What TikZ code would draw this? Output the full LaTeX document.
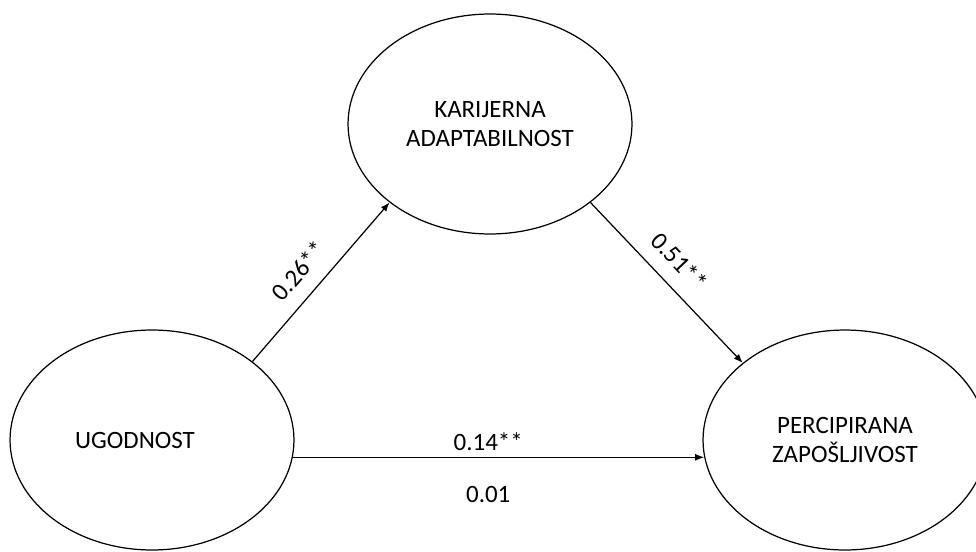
\documentclass[tikz,border=0pt]{standalone}
\usepackage{fontspec}
\setmainfont{Carlito}
\usetikzlibrary{shapes.geometric,arrows.meta}

\begin{document}
\begin{tikzpicture}[x=0.02cm,y=-0.02cm,>={Latex[length=1.8mm,width=1.4mm]},
		var/.style={ellipse,draw,line width=0.7pt,minimum width=5.68cm,minimum height=4.4cm,inner sep=0pt,align=center,font=\fontsize{14.2}{16.5}\selectfont},
		coef/.style={font=\fontsize{14.2}{16.5}\selectfont}]
				\useasboundingbox (0,0) rectangle (976,551);
				\node[var] (ug) at (152,440) {UGODNOST\hspace*{0.68cm}};
				\node[var] (ka) at (490,124) {KARIJERNA\\ADAPTABILNOST};
				\node[var] (pz) at (845,440) {PERCIPIRANA\\ZAPOŠLJIVOST};
				\draw[->,line width=0.7pt] (ug.38) -- (ka.218) node[coef,pos=0.47,sloped,above=5pt] {0.26**};
				\draw[->,line width=0.7pt] (ka.-38) -- (pz.143) node[coef,pos=0.47,sloped,above=5pt] {0.51**};
				\draw[->,line width=0.7pt] (ug.-7) -- (pz.187) node[coef,pos=0.475,above] {0.14**} node[coef,pos=0.475,below=13pt] {0.01};
			\end{tikzpicture}
\end{document}
